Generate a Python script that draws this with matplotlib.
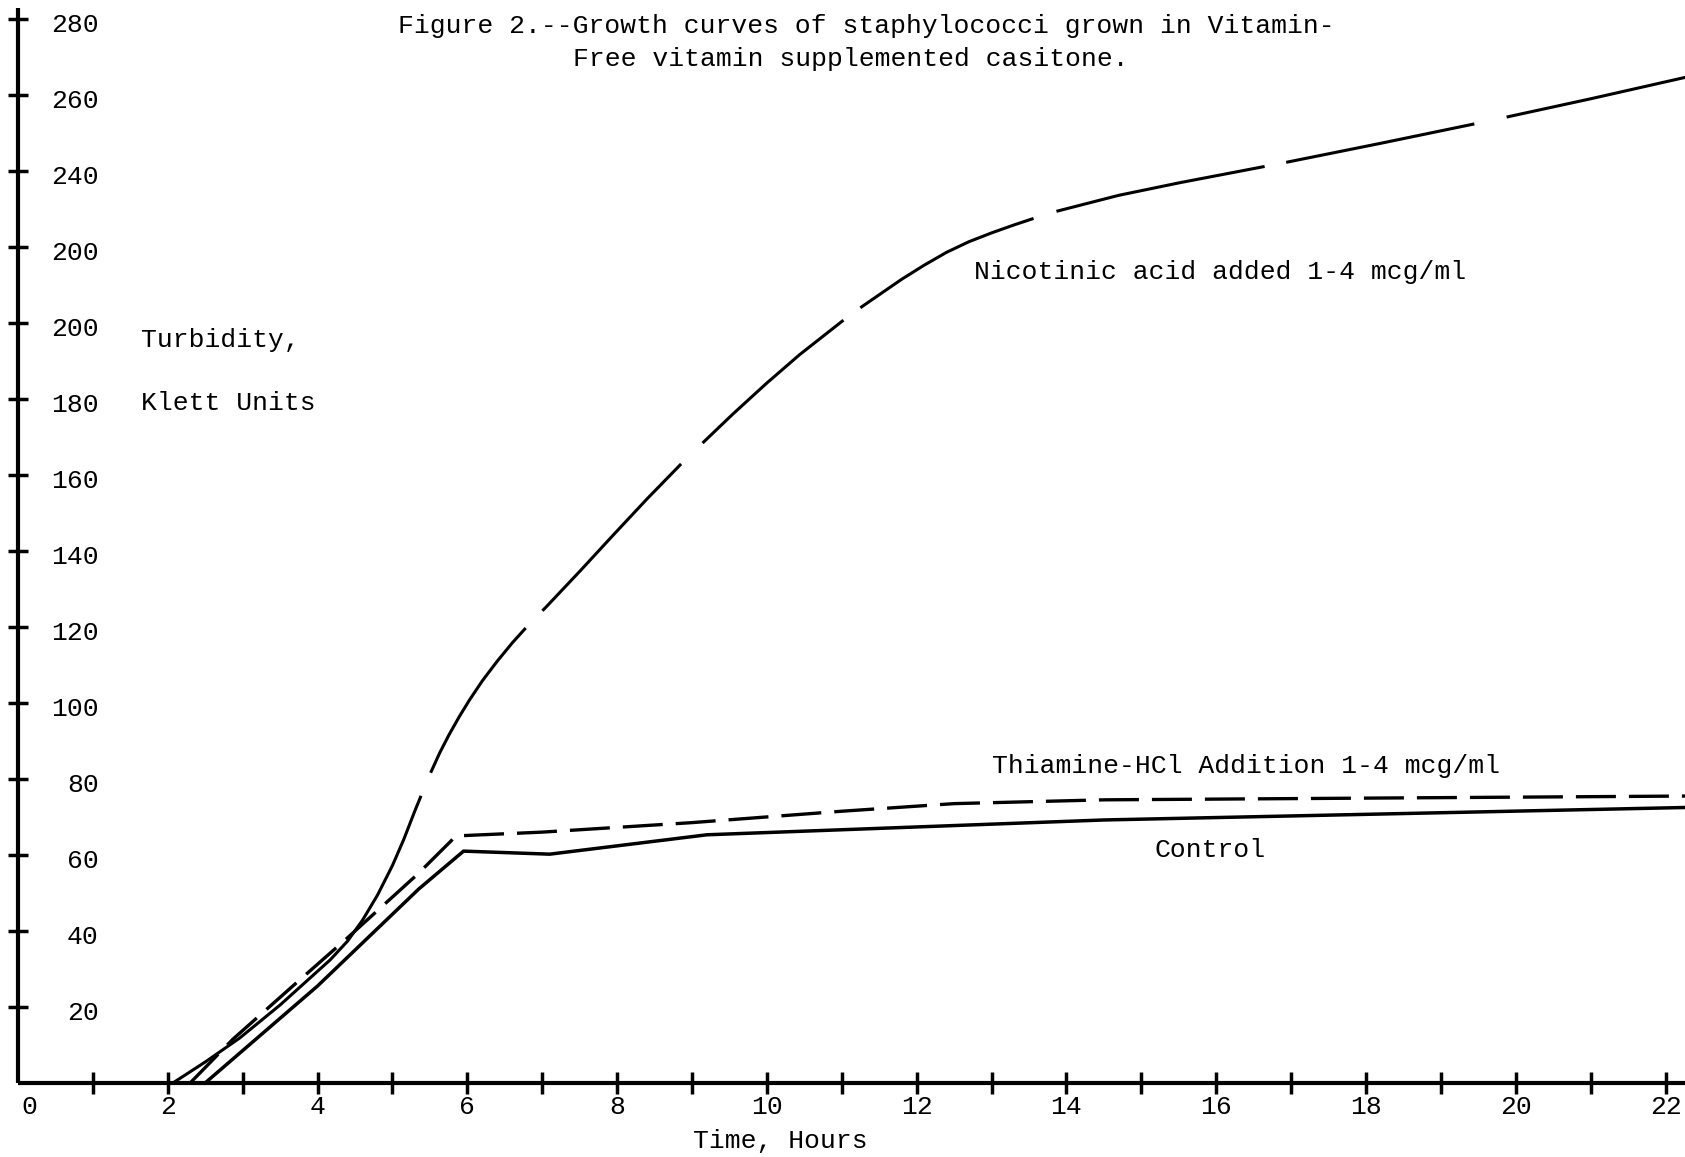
# Figure 2 -- growth curves of staphylococci in vitamin-free casitone
# typewriter-style reproduction of the scanned chart

import numpy as np
import matplotlib.pyplot as plt

plt.rcParams['font.family'] = ['Liberation Mono', 'DejaVu Sans Mono']
plt.rcParams['lines.scale_dashes'] = False

# Nicotinic acid added 1-4 mcg/ml
nic_hours = [2.07, 2.5, 2.96, 3.5, 4.17, 4.4, 4.6, 4.8, 5.0, 5.15, 5.3, 5.42,
             5.51, 5.63, 5.75, 5.89, 6.03, 6.2, 6.4, 6.6, 6.82, 7.04, 7.5, 7.94,
             8.4, 8.85, 9.12, 9.55, 10.0, 10.44, 11.04, 11.27, 11.8, 12.1, 12.4,
             12.7, 13.0, 13.3, 13.56, 13.87, 14.7, 15.51, 16.65, 16.94, 18.2,
             19.45, 19.88, 21.0, 22.3]
nic_klett = [0, 5.5, 11.8, 20.5, 32.4, 37.3, 42.8, 49.4, 57.2, 64, 71.6, 77.4,
             81.6, 86.8, 91.4, 96.3, 100.8, 105.8, 111, 115.8, 120.6, 125, 134.6, 144,
             153.7, 162.8, 168, 176.1, 184.2, 191.7, 201, 204.3, 211.5, 215.2, 218.6,
             221.4, 223.7, 225.8, 227.5, 229.4, 233.6, 236.9, 241.2, 242.3, 247.3,
             252.4, 254.2, 259, 264.8]

# Thiamine-HCl addition 1-4 mcg/ml
thi_hours = [2.3, 2.87, 3.67, 4.39, 5.34, 5.85, 7.0, 9.0, 11.0, 12.5, 14.5, 22.3]
thi_klett = [0, 11.5, 25.5, 38, 55, 65, 66, 68.5, 71.5, 73.5, 74.5, 75.5]

# Control
ctl_hours = [2.5, 4.0, 5.35, 5.95, 7.1, 9.2, 14.5, 22.3]
ctl_klett = [0, 25.5, 51, 61, 60.2, 65.3, 69.2, 72.5]

y_ticks = [20, 40, 60, 80, 100, 120, 140, 160, 180, 200, 220, 240, 260, 280]
y_labels = ['20', '40', '60', '80', '100', '120', '140', '160', '180', '200',
            '200', '240', '260', '280']
x_ticks = list(range(1, 23))
x_labels = list(range(0, 23, 2))

px = 72 / 100  # points per pixel

fig = plt.figure(figsize=(16.85, 11.57), dpi=100)
ax = fig.add_axes([0, 0, 1, 1])
ax.set_xlim(-0.24, 22.26)
ax.set_ylim(-19.5, 285)
ax.axis('off')

# hand drawn axes
ax.plot([0, 0], [0, 283], color='k', lw=3, solid_capstyle='butt')
ax.plot([0, 22.4], [0, 0], color='k', lw=3, solid_capstyle='butt')
ax.plot(np.zeros(len(y_ticks)), y_ticks, ls='none', marker='_', ms=15,
        mew=2.5, color='k')
ax.plot(x_ticks, np.zeros(len(x_ticks)), ls='none', marker='|', ms=16,
        mew=2.5, color='k')

fs = 19
for v, lab in zip(y_ticks, y_labels):
    ax.text(1.08, v - 1.5, lab, ha='right', va='center', fontsize=fs)
for h in x_labels:
    xpos = h + 0.15 if h == 0 else h
    ax.text(xpos, -6.3, str(h), ha='center', va='center', fontsize=fs)

# curves
nic, = ax.plot(nic_hours, nic_klett, color='k', lw=2.2, solid_joinstyle='round')
nic.set_dashes([d * px for d in [389, 25, 174, 24, 202, 30, 187, 21, 196, 24,
                                 213, 22, 192, 33, 400, 10]])
thi, = ax.plot(thi_hours, thi_klett, color='k', lw=2.4)
thi.set_dashes([40 * px, 13 * px])
ax.plot(ctl_hours, ctl_klett, color='k', lw=2.5)

# text
ax.text(5.08, 278.2, 'Figure 2.--Growth curves of staphylococci grown in Vitamin-',
        ha='left', va='center', fontsize=fs)
ax.text(7.41, 269.5, 'Free vitamin supplemented casitone.',
        ha='left', va='center', fontsize=fs)
ax.text(1.64, 195.6, 'Turbidity,', ha='left', va='center', fontsize=fs)
ax.text(1.64, 179, 'Klett Units', ha='left', va='center', fontsize=fs)
ax.text(12.77, 213.4, 'Nicotinic acid added 1-4 mcg/ml', ha='left', va='center', fontsize=fs)
ax.text(13.0, 83.4, 'Thiamine-HCl Addition 1-4 mcg/ml', ha='left', va='center', fontsize=fs)
ax.text(15.17, 61.3, 'Control', ha='left', va='center', fontsize=fs)
ax.text(9.01, -15.3, 'Time, Hours', ha='left', va='center', fontsize=fs)

plt.savefig('out.png', dpi=100)
plt.close()
